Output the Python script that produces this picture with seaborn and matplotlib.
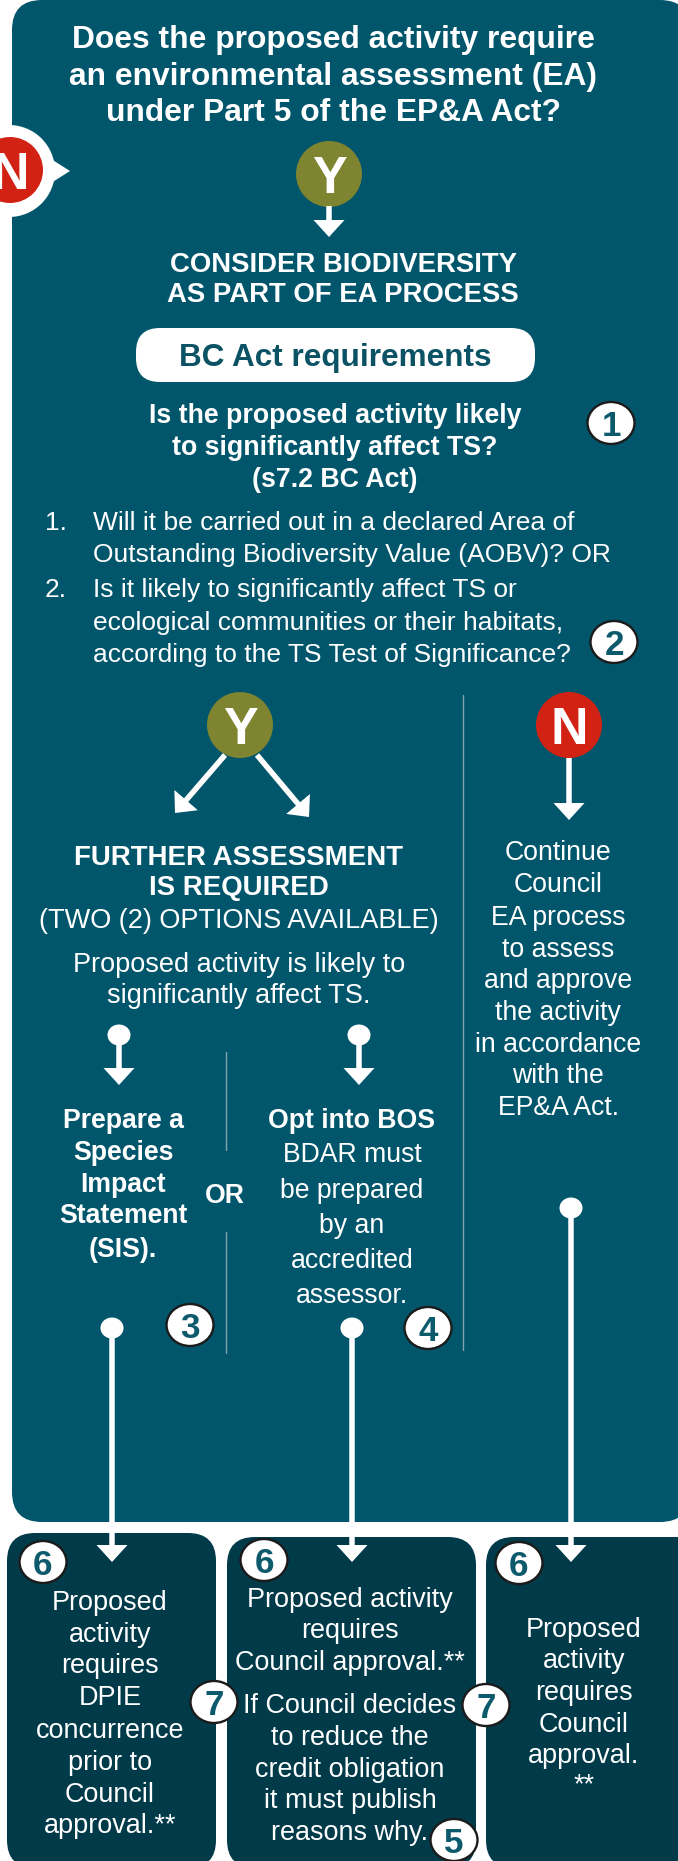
import numpy as np
import seaborn as sns
from matplotlib import pyplot as plt
from matplotlib.patches import FancyBboxPatch, Circle, Ellipse, Polygon

# ---- text content -------------------------------------------------------
title_lines = ["Does the proposed activity require",
               "an environmental assessment (EA)",
               "under Part 5 of the EP&A Act?"]
consider_lines = ["CONSIDER BIODIVERSITY", "AS PART OF EA PROCESS"]
pill_text = "BC Act requirements"
question_lines = ["Is the proposed activity likely",
                  "to significantly affect TS?",
                  "(s7.2 BC Act)"]
list_numbers = ["1.", "2."]
list_lines = [["Will it be carried out in a declared Area of",
               "Outstanding Biodiversity Value (AOBV)? OR"],
              ["Is it likely to significantly affect TS or",
               "ecological communities or their habitats,",
               "according to the TS Test of Significance?"]]
further_bold = ["FURTHER ASSESSMENT", "IS REQUIRED"]
further_regular = ["(TWO (2) OPTIONS AVAILABLE)",
                   "Proposed activity is likely to",
                   "significantly affect TS."]
no_lines = ["Continue", "Council", "EA process", "to assess", "and approve",
            "the activity", "in accordance", "with the", "EP&A Act."]
sis_lines = ["Prepare a", "Species", "Impact", "Statement", "(SIS)."]
bos_head = "Opt into BOS"
bos_lines = ["BDAR must", "be prepared", "by an", "accredited", "assessor."]
left_box = ["Proposed", "activity", "requires", "DPIE", "concurrence",
            "prior to", "Council", "approval.**"]
mid_box = ["Proposed activity", "requires", "Council approval.**",
           "If Council decides", "to reduce the", "credit obligation",
           "it must publish", "reasons why."]
right_box = ["Proposed", "activity", "requires", "Council", "approval.", "**"]

TEAL = "#02566B"
DARK = "#013A49"
OLIVE = "#7F8430"
RED = "#D22214"
WHITE = "white"
DIVIDER = "#7FA3AD"
NUM = "#0E5A6D"

sns.set_theme(style="white")
plt.rcParams["font.family"] = ["Liberation Sans", "DejaVu Sans"]

W, H = 678, 1861
fig = plt.figure(figsize=(W / 100, H / 100), dpi=100, facecolor="white")
ax = fig.add_axes([0, 0, 1, 1])
ax.set_xlim(0, W)
ax.set_ylim(H, 0)
ax.axis("off")


def text(x, y, s, px=26.4, bold=False, color=WHITE, ha="center", z=5):
    ax.text(x, y + 0.36 * px, s, fontsize=px * 0.72, color=color, ha=ha,
            va="baseline", fontweight="bold" if bold else "normal", zorder=z)


def rbox(x0, y0, x1, y1, r, color, z=1):
    ax.add_patch(FancyBboxPatch((x0, y0), x1 - x0, y1 - y0,
                                boxstyle=f"round,pad=0,rounding_size={r}",
                                fc=color, ec="none", zorder=z))


def arrow(x0, y0, x1, y1, w=5.5, hl=17, hw=15.5):
    p0, p1 = np.array([x0, y0], float), np.array([x1, y1], float)
    u = (p1 - p0) / np.linalg.norm(p1 - p0)
    n = np.array([-u[1], u[0]])
    base = p1 - u * hl
    ax.plot([p0[0], base[0] + u[0]], [p0[1], base[1] + u[1]], color=WHITE,
            lw=w * 0.72, solid_capstyle="butt", zorder=3)
    ax.add_patch(Polygon([base + n * hw, base - n * hw, p1], closed=True,
                         fc=WHITE, ec="none", zorder=3))


def pin(x, y, y_tip):
    ax.add_patch(Ellipse((x, y), 23, 21, fc=WHITE, ec="none", zorder=3))
    arrow(x, y, x, y_tip)


def yn(x, y, letter, color):
    ax.add_patch(Circle((x, y), 33, fc=color, ec="none", zorder=3))
    text(x, y, letter, px=52, bold=True, z=4)


def badge(x, y, num):
    ax.add_patch(Ellipse((x, y), 47, 42, fc=WHITE, ec="#1b1b1b", lw=1.7, zorder=6))
    text(x, y + 0.5, num, px=35, bold=True, color=NUM, z=7)


# ---- boxes --------------------------------------------------------------
rbox(12, 0, 690, 1522, 30, TEAL)
rbox(7, 1533, 216, 1868, 28, DARK)
rbox(227, 1537, 476, 1868, 28, DARK)
rbox(486, 1537, 710, 1868, 28, DARK)

# N badge on the left edge
ax.add_patch(Circle((9, 171), 46, fc=WHITE, ec="none", zorder=2))
ax.add_patch(Polygon([(40, 152), (70, 171), (40, 190)], fc=WHITE, ec="none", zorder=2))
yn(10, 170, "N", RED)

# ---- top section --------------------------------------------------------
for y, s in zip([37, 74, 110], title_lines):
    text(333, y, s, px=31.8, bold=True)
yn(329, 174, "Y", OLIVE)
arrow(329, 206, 329, 237)
for y, s in zip([262, 292], consider_lines):
    text(343, y, s, px=27.5, bold=True)

rbox(136, 328, 535, 382, 24, WHITE, z=2)
text(335, 355, pill_text, px=31.5, bold=True, color="#0B5265")

for y, s in zip([413, 445, 477], question_lines):
    text(335, y, s, px=26.7, bold=True)
badge(611, 423, "1")

list_ys = [[520, 552], [587, 620, 652]]
for num, ys, ls in zip(list_numbers, list_ys, list_lines):
    text(45, ys[0], num, px=26.4, ha="left")
    for y, s in zip(ys, ls):
        text(93, y, s, px=26.4, ha="left")
badge(614, 642, "2")

# ---- Y / N branch -------------------------------------------------------
ax.plot([463, 463], [695, 1350], color=DIVIDER, lw=1.0, zorder=2)
yn(240, 725, "Y", OLIVE)
yn(569, 725, "N", RED)
arrow(225, 755, 175, 813)
arrow(257, 755, 309, 817)
arrow(569, 758, 569, 820)

for y, s in zip([855, 885], further_bold):
    text(239, y, s, px=27.6, bold=True)
for y, s in zip([918, 962, 993], further_regular):
    text(239, y, s, px=27.1)
for y, s in zip([850, 882, 915, 947, 978, 1010, 1042, 1073, 1105], no_lines):
    text(558, y, s, px=26.6)

pin(119, 1035, 1085)
pin(359, 1035, 1085)
ax.plot([226, 226], [1052, 1150], color=DIVIDER, lw=1.0, zorder=2)
ax.plot([226, 226], [1232, 1353], color=DIVIDER, lw=1.0, zorder=2)
for y, s in zip([1118, 1150, 1182, 1213, 1247], sis_lines):
    text(123, y, s, px=26.6, bold=True)
text(225, 1193, "OR", px=26.6, bold=True)
text(352, 1118, bos_head, px=26.6, bold=True)
for y, s in zip([1152, 1188, 1223, 1258, 1293], bos_lines):
    text(352, y, s, px=26.6)
badge(190, 1325, "3")
badge(428, 1328, "4")

pin(112, 1328, 1562)
pin(352, 1328, 1562)
pin(571, 1208, 1562)

# ---- bottom boxes -------------------------------------------------------
for y, s in zip([1600, 1632, 1663, 1695, 1728, 1760, 1792, 1823], left_box):
    text(110, y, s, px=27)
for y, s in zip([1597, 1628, 1660, 1703, 1735, 1767, 1798, 1830], mid_box):
    text(350, y, s, px=27)
for y, s in zip([1627, 1658, 1690, 1722, 1753, 1782], right_box):
    text(584, y, s, px=27)
badge(43, 1562, "6")
badge(264, 1560, "6")
badge(519, 1563, "6")
badge(214, 1702, "7")
badge(486, 1705, "7")
badge(454, 1840, "5")

fig.savefig("out.png", dpi=100, facecolor="white")
